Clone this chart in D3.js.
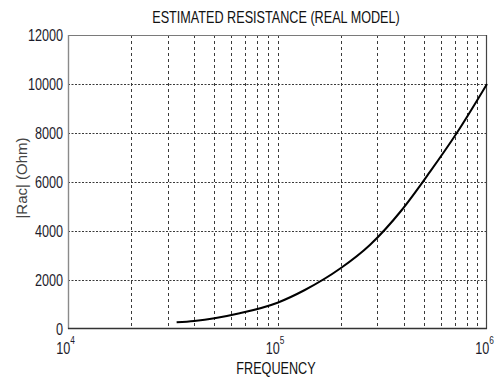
<!DOCTYPE html>
<html>
<head>
<meta charset="utf-8">
<script src="https://cdn.jsdelivr.net/npm/d3@7"></script>
<style>
  html, body { margin: 0; padding: 0; background: #fff; }
  svg { display: block; }
  text { font-family: "Liberation Sans", Arial, sans-serif; }
</style>
</head>
<body>
<svg id="chart" width="497" height="378"></svg>
<script>
// Estimated AC resistance vs. frequency
const frequency = [33000, 40000, 50000, 66000, 100000, 135000, 200000, 276000, 392000, 535000, 716000, 1000000];
const resistance = [273, 330, 437, 641, 1073, 1592, 2478, 3429, 4857, 6421, 7988, 10000];

const yTicks = [0, 2000, 4000, 6000, 8000, 10000, 12000];
const xDecades = [4, 5, 6];
const xMinor = [2e4, 3e4, 4e4, 5e4, 6e4, 7e4, 8e4, 9e4, 1e5, 2e5, 3e5, 4e5, 5e5, 6e5, 7e5, 8e5, 9e5];

const titleText = "ESTIMATED RESISTANCE (REAL MODEL)";
const xLabel = "FREQUENCY";
const yLabel = "|Rac| (Ohm)";

const plot = { left: 68, top: 35, right: 487, bottom: 329 };
const NARROW = 0.79; // horizontal squeeze for condensed-looking labels

const svg = d3.select("#chart");

const x = d3.scaleLog().domain([1e4, 1e6]).range([plot.left, plot.right]);
const y = d3.scaleLinear().domain([0, 12000]).range([plot.bottom, plot.top]);

// text placed at (px, py) and squeezed horizontally
function narrowText(sel, px, py) {
  return sel.attr("transform", (d, i) => {
    const X = typeof px === "function" ? px(d, i) : px;
    const Y = typeof py === "function" ? py(d, i) : py;
    return `translate(${X},${Y}) scale(${NARROW},1)`;
  });
}

// vertical grid (dashed)
svg.append("g")
  .selectAll("line")
  .data(xMinor)
  .join("line")
  .attr("x1", d => Math.round(x(d)) + 0.5)
  .attr("x2", d => Math.round(x(d)) + 0.5)
  .attr("y1", plot.top)
  .attr("y2", plot.bottom)
  .attr("stroke", "#3a3a3a")
  .attr("stroke-width", 1)
  .attr("stroke-dasharray", "3,3");

// horizontal grid (dotted)
svg.append("g")
  .selectAll("line")
  .data(yTicks.filter(d => d > 0 && d < 12000))
  .join("line")
  .attr("x1", plot.left)
  .attr("x2", plot.right)
  .attr("y1", d => Math.round(y(d)) + 0.5)
  .attr("y2", d => Math.round(y(d)) + 0.5)
  .attr("stroke", "#3a3a3a")
  .attr("stroke-width", 1)
  .attr("stroke-dasharray", "2,1.5");

// frame
svg.append("line").attr("x1", plot.left).attr("x2", plot.right).attr("y1", plot.top + 0.5).attr("y2", plot.top + 0.5)
  .attr("stroke", "#7a7a7a").attr("stroke-width", 1.2);
svg.append("line").attr("x1", plot.right - 0.5).attr("x2", plot.right - 0.5).attr("y1", plot.top).attr("y2", plot.bottom)
  .attr("stroke", "#444").attr("stroke-width", 1.2);
svg.append("line").attr("x1", plot.left + 0.5).attr("x2", plot.left + 0.5).attr("y1", plot.top).attr("y2", plot.bottom)
  .attr("stroke", "#8a8a8a").attr("stroke-width", 1.4);
svg.append("line").attr("x1", plot.left).attr("x2", plot.right).attr("y1", plot.bottom - 0.5).attr("y2", plot.bottom - 0.5)
  .attr("stroke", "#333").attr("stroke-width", 1.6);

// curve
const line = d3.line()
  .x((d, i) => x(frequency[i]))
  .y((d, i) => y(resistance[i]))
  .curve(d3.curveMonotoneX);

svg.append("path")
  .datum(frequency)
  .attr("d", line)
  .attr("fill", "none")
  .attr("stroke", "#000")
  .attr("stroke-width", 2)
  .attr("stroke-linejoin", "round");

// y tick labels
svg.append("g")
  .selectAll("text")
  .data(yTicks)
  .join("text")
  .call(narrowText, plot.left - 5, d => y(d))
  .attr("dy", "0.36em")
  .attr("text-anchor", "end")
  .attr("font-size", 16)
  .attr("fill", "#1c1c2c")
  .text(d => d);

// x tick labels: 10^n
const xt = svg.append("g")
  .selectAll("text")
  .data(xDecades)
  .join("text")
  .call(narrowText, d => x(Math.pow(10, d)) - 2.5, 354)
  .attr("text-anchor", "middle")
  .attr("font-size", 16)
  .attr("fill", "#1c1c2c");
xt.append("tspan").text("10");
xt.append("tspan").attr("dy", -10).attr("font-size", 10.5).text(d => d);

// title
svg.append("text")
  .call(narrowText, 276, 23)
  .attr("text-anchor", "middle")
  .attr("font-size", 16)
  .attr("fill", "#111")
  .text(titleText);

// x axis label
svg.append("text")
  .call(narrowText, 276, 374)
  .attr("text-anchor", "middle")
  .attr("font-size", 16)
  .attr("fill", "#111")
  .text(xLabel);

// y axis label
svg.append("text")
  .attr("transform", "translate(27,178) rotate(-90)")
  .attr("text-anchor", "middle")
  .attr("font-size", 15)
  .attr("fill", "#444")
  .text(yLabel);
</script>
</body>
</html>
